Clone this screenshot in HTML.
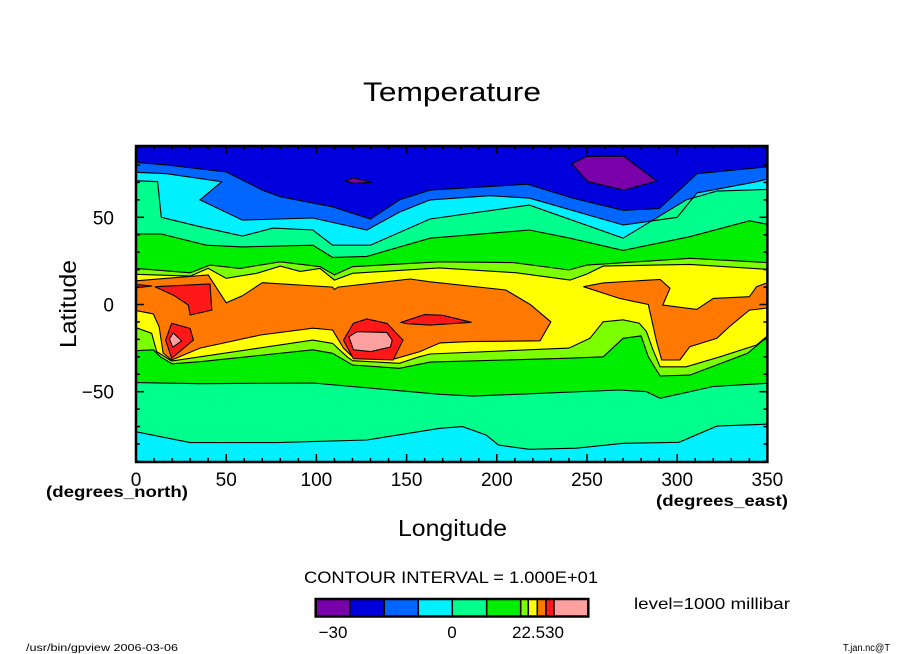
<!DOCTYPE html>
<html><head><meta charset="utf-8"><style>
html,body{margin:0;padding:0;background:#fff;}
svg{display:block;font-family:"Liberation Sans",sans-serif;}
</style></head><body>
<svg id="chart" width="904" height="654" viewBox="0 0 904 654" xmlns="http://www.w3.org/2000/svg">
<rect width="904" height="654" fill="#fff"/>
<text x="363" y="101" font-size="27" textLength="178" lengthAdjust="spacingAndGlyphs">Temperature</text>
<defs><clipPath id="pc"><rect x="136" y="146" width="631.5" height="316"/></clipPath></defs>
<g id="bands" clip-path="url(#pc)"></g>
<g id="axes"></g>
<text transform="translate(76,348) rotate(-90)" font-size="23" textLength="88" lengthAdjust="spacingAndGlyphs">Latitude</text>
<text x="398" y="536" font-size="23" textLength="109" lengthAdjust="spacingAndGlyphs">Longitude</text>
<text x="46" y="497" font-size="16" font-weight="bold" textLength="142" lengthAdjust="spacingAndGlyphs">(degrees_north)</text>
<text x="656" y="506" font-size="16" font-weight="bold" textLength="132" lengthAdjust="spacingAndGlyphs">(degrees_east)</text>
<text x="304" y="583" font-size="17" textLength="294" lengthAdjust="spacingAndGlyphs">CONTOUR INTERVAL = 1.000E+01</text>
<text x="634" y="609" font-size="16" textLength="156" lengthAdjust="spacingAndGlyphs">level=1000  millibar</text>
<g id="cbar"></g>
<text x="26" y="651" font-size="10" textLength="152" lengthAdjust="spacingAndGlyphs">/usr/bin/gpview   2006-03-06</text>
<text x="843" y="651" font-size="10" textLength="47" lengthAdjust="spacingAndGlyphs">T.jan.nc@T</text>
</svg>
<script>
// ---- data: contour boundaries as [lon, lat] pairs ----
const lonTicks = [0,50,100,150,200,250,300,350];
const latTicks = [-50,0,50];
const bandColors = ["#7a00aa","#0000dc","#0066ff","#00f0ff","#00ff8c","#00ee00","#7cff00","#ffff00","#ff7800","#ff1818","#ffa0a0"];
const b1 = [[0,81.5],[17,80],[50,76],[70,65.6],[80,61.8],[109,56],[130,49],[146,60],[163,65.6],[217,69],[242,61],[270,54],[290,55],[311,75],[350,79]];
const b2 = [[0,75.8],[17,75],[47.5,70.4],[35.5,60],[59,48.4],[98,49.6],[128,42.7],[146,53],[163,60],[196,62.4],[218,61],[270,45.6],[300,50],[311,64],[344,70.4],[350,72]];
const b3 = [[0,71],[12,70.4],[14,50],[35.5,44.6],[59,39.3],[76,43.8],[98,42.7],[109,34],[130,34],[163,49],[218,57],[270,38],[305,60],[322,65],[350,66]];
const b4 = [[0,40.4],[14,40.4],[39,34],[59,33],[98,34],[109,27],[128,27.6],[163,38],[218,42.7],[240.6,38],[270,31],[307,38.9],[340,48],[350,46]];
const b5 = [[0,20.7],[30,18.2],[41,22.6],[57.6,20.7],[80,24.5],[102,21.7],[110,17],[120,21.7],[168,24.5],[209,24],[240,19.8],[250,22.6],[307,26.5],[350,24]];
const b6 = [[0,17.3],[30,16.3],[40,20.7],[50,15],[67,17.9],[80,22],[91,19],[102,20.7],[110,14],[120,17.9],[168,21],[211,18.2],[240.6,14],[250,17.5],[259,22],[307,23],[350,20.2]];
const b7 = [[0,-13.3],[8.7,-16.5],[11.5,-27],[19.8,-32.4],[35.5,-30],[98,-20.4],[109,-22.3],[117,-30],[120,-32.2],[146,-33.7],[157,-30],[163,-28.4],[240,-25],[251.6,-19.4],[259,-9.9],[270,-8.8],[279,-10.7],[283,-15.6],[286.6,-26],[290.5,-35.7],[305,-35.7],[323.7,-30],[344,-23.2],[350,-18]];
const b8 = [[0,-26.5],[9.6,-26],[13.5,-30],[20,-34],[35.5,-32.8],[98,-26],[109,-28],[120,-34.7],[146,-36.6],[163,-33],[240,-30.8],[259,-30],[270,-19.4],[280,-18],[284,-30],[290.5,-41],[307,-40.5],[339,-28],[350,-18.5]];
const b9 = [[0,-44.8],[35.5,-45.4],[98,-45],[168.5,-51.5],[187,-52.5],[268,-49],[283,-50],[290.5,-53.8],[320,-47],[350,-45.2]];
const b10 = [[0,-73],[30,-79.2],[78,-79.2],[128,-77.7],[168.5,-71],[181,-70],[194,-74.8],[201,-80.6],[218,-83],[244,-82.4],[270,-79.6],[301,-79],[322,-69.7],[350,-68.6]];
const orangeWest = [[0,13.6],[40,17],[50,1],[59,5],[70,12.5],[109,10],[110,8.6],[112,10],[152,14.6],[163,13],[205,8.3],[218.5,0],[230,-10],[224,-20.8],[185,-21.3],[168.5,-22],[157.4,-27],[142.5,-31.4],[120,-30],[115,-25],[109,-14.6],[98,-13.6],[69,-17.5],[35.5,-25],[19.8,-31.8],[15,-27.8],[12.8,-12.7],[9.6,-5.4],[0,-3.5]];
const orangeEast = [[248,10.2],[259,12.4],[290.5,14.4],[296,9.3],[292,-0.3],[310.8,-2.8],[320,3.5],[340,4.5],[344,10.2],[350,12.5],[350,-2],[340,-3.2],[329,-12.7],[322,-19.4],[307,-24.2],[301.5,-31.8],[291.4,-31.8],[288.6,-21.3],[284,0],[268,3.5]];
const redWest = [[10.5,10.2],[41,11.8],[42,-3.2],[30,-6],[29,-0.3],[20.7,5.4]];
const redDot = [[0,11.5],[9,10.6],[0,9.6]];
const redSmall = [[16.4,-20.4],[19.8,-10.8],[30,-13.7],[31.8,-20.4],[19.8,-30.8]];
const pinkSmall = [[18.5,-19.8],[20.7,-16.2],[25.3,-20.9],[20.4,-24.5]];
const redMid = [[115,-20.4],[120.5,-10.8],[128,-8.3],[139,-10.8],[148,-20.4],[142.5,-31.8],[120.5,-31.1]];
const pinkMid = [[118,-18.5],[122.5,-15.6],[139,-16],[142,-20.4],[141,-24.4],[130,-27],[120.5,-26]];
const redSliver = [[147,-10.2],[160,-5.8],[170,-6.2],[186,-10.2],[163,-11.8],[150,-11]];
const purpleBig = [[241.5,80.6],[250,85],[270.5,85],[288.6,70.8],[270.5,65.6],[250.6,70.4]];
const purpleSmall = [[116,70.8],[120.5,72.7],[130.6,70],[120.5,69.5]];
const cbarLabels = ["\u221230","0","22.530"];
const cbarLabelX = [333, 452, 538];

// ---- axis functions ----
const X0=136, XS=1.804, Y0=304.5, YS=1.744;
const xs = lon => X0 + lon*XS;
const ys = lat => Y0 - lat*YS;
const NS="http://www.w3.org/2000/svg";
const bands=document.getElementById('bands');
const axes=document.getElementById('axes');
function pts(a){return a.map(p=>xs(p[0]).toFixed(1)+","+ys(p[1]).toFixed(1)).join(" ");}
function mk(tag,parent,attrs){const e=document.createElementNS(NS,tag);for(const k in attrs)e.setAttribute(k,attrs[k]);parent.appendChild(e);return e;}

const base=mk('rect',bands,{x:130,y:140,width:650,height:330,fill:bandColors[1]});



const north=[[b1,2,'band-blue'],[b2,3,'band-cyan'],[b3,4,'band-seafoam'],[b4,5,'band-green'],[b5,6,'band-light-green'],[b6,7,'band-yellow']];
const south=[[b7,6,'band-light-green-south'],[b8,5,'band-green-south'],[b9,4,'band-seafoam-south'],[b10,3,'band-cyan-south']];
north.concat(south).forEach(([b,c,n])=>{
  const poly=b.concat([[360,b[b.length-1][1]],[360,-100],[-10,-100]]);
  const e=mk('polygon',bands,{points:pts([[-10,b[0][1]]].concat(poly)),fill:bandColors[c]});
  
  
});
const blobs=[[orangeWest,8,'region-orange-west'],[orangeEast,8,'region-orange-east'],[redWest,9,'region-red-west'],[redDot,9,'region-red-dot'],[redSmall,9,'region-red-small'],[pinkSmall,10,'region-pink-small'],[redMid,9,'region-red-mid'],[pinkMid,10,'region-pink-mid'],[redSliver,9,'region-red-sliver'],[purpleBig,0,'region-purple-big'],[purpleSmall,0,'region-purple-small']];
blobs.forEach(([b,c,n])=>{
  const e=mk('polygon',bands,{points:pts(b),fill:bandColors[c],stroke:'#000','stroke-width':1.1});
  
  
});
[b1,b2,b3,b4,b5,b6,b7,b8,b9,b10].forEach((b,i)=>{
  const e=mk('polyline',bands,{points:pts(b),fill:'none',stroke:'#000','stroke-width':1.1});
  
  
});

const L=xs(0), R=xs(350), T=146, B=462;
const fr=mk('rect',axes,{x:L,y:T,width:R-L,height:B-T,fill:'none',stroke:'#000','stroke-width':2.5});


for(let lon=0;lon<=350;lon+=10){
  const len = lon%50===0?8:4, x=xs(lon);
  const t1=mk('line',axes,{x1:x,y1:B,x2:x,y2:B-len,stroke:'#000','stroke-width':1.5});
  
  
  const t2=mk('line',axes,{x1:x,y1:T,x2:x,y2:T+len,stroke:'#000','stroke-width':1.5});
  
  
}
for(let lat=-90;lat<=90;lat+=10){
  const len = lat%50===0?8:4, y=ys(lat);
  if(y<T||y>B) continue;
  const t1=mk('line',axes,{x1:L,y1:y,x2:L+len,y2:y,stroke:'#000','stroke-width':1.5});
  
  
  const t2=mk('line',axes,{x1:R,y1:y,x2:R-len,y2:y,stroke:'#000','stroke-width':1.5});
  
  
}
lonTicks.forEach(v=>{
  const t=mk('text',axes,{x:xs(v),y:486,'font-size':19,'text-anchor':'middle'});
  t.textContent=v;
  
  
});
latTicks.forEach(v=>{
  const t=mk('text',axes,{x:114,y:ys(v)+7,'font-size':19,'text-anchor':'end'});
  t.textContent=v<0?'\u2212'+(-v):v;
  
  
});

const cb=document.getElementById('cbar');
const cbEdges=[315.7,350,384.3,418.3,452.3,486.7,520.7,528.3,537.3,546,554,588.3];
bandColors.forEach((c,i)=>{
  const r=mk('rect',cb,{x:cbEdges[i],y:599,width:cbEdges[i+1]-cbEdges[i],height:17.5,fill:c,stroke:'#000','stroke-width':1.5});
  
  
});
const cbo=mk('rect',cb,{x:315.7,y:599,width:272.6,height:17.5,fill:'none',stroke:'#000','stroke-width':2.5});


cbarLabels.forEach((s,i)=>{
  const t=mk('text',cb,{x:cbarLabelX[i],y:638,'font-size':17,'text-anchor':'middle'});
  t.textContent=s;
  
  
});
</script>
</body></html>
